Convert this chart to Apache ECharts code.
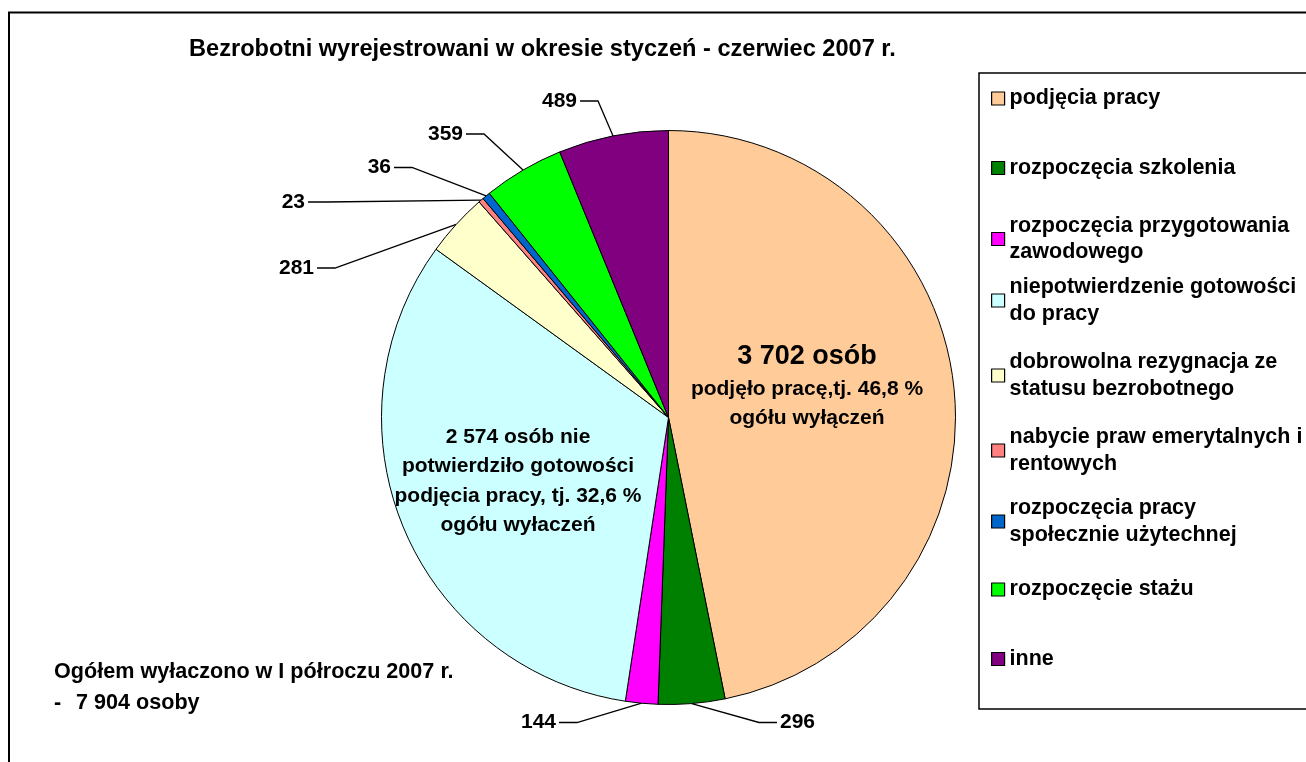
<!DOCTYPE html>
<html>
<head>
<meta charset="utf-8">
<title>Bezrobotni wyrejestrowani</title>
<script src="https://cdn.jsdelivr.net/npm/echarts@6/dist/echarts.min.js"></script>
<style>
html, body { margin: 0; padding: 0; background: #fff; }
#chart { width: 1306px; height: 762px; }
</style>
</head>
<body>
<div id="chart"></div>
<script>
var categories = ['podjęcia pracy', 'rozpoczęcia szkolenia', 'rozpoczęcia przygotowania zawodowego',
    'niepotwierdzenie gotowości do pracy', 'dobrowolna rezygnacja ze statusu bezrobotnego',
    'nabycie praw emerytalnych i rentowych', 'rozpoczęcia pracy społecznie użytechnej',
    'rozpoczęcie stażu', 'inne'];
var values = [3702, 296, 144, 2574, 281, 23, 36, 359, 489];
var colors = ['#FFCC99', '#008000', '#FF00FF', '#CCFFFF', '#FFFFCC', '#FF8080', '#0066CC', '#00FF00', '#800080'];
// legend entries wrapped as in the original
var legendLines = ['podjęcia pracy', 'rozpoczęcia szkolenia', 'rozpoczęcia przygotowania\nzawodowego',
    'niepotwierdzenie gotowości\ndo pracy', 'dobrowolna rezygnacja ze\nstatusu bezrobotnego',
    'nabycie praw emerytalnych i\nrentowych', 'rozpoczęcia pracy\nspołecznie użytechnej',
    'rozpoczęcie stażu', 'inne'];

// layout only
var font = "'Liberation Sans', Arial, sans-serif";
var center = [668.5, 417.5];
var legendRowY = [98.5, 168, 239, 300.5, 375.5, 450.5, 521.5, 589.5, 659];
var labelSpots = [[807, 386.5], [780, 722.5], [556, 722.5], [518, 481.3], [314, 268],
    [305, 202], [391, 167.5], [463, 134], [577, 101]];
var lh = 26.5;

var total = values.reduce(function (a, b) { return a + b; }, 0);
function num(n) { return String(n).replace(/\B(?=(\d{3})+(?!\d))/g, ' '); }
function pct(p) { return p.toFixed(1).replace('.', ','); }

var insideText = {
    0: function (p) {
        return '{big|' + num(p.value) + ' osób}\n{txt|podjęło pracę,tj. ' + pct(p.percent) + ' %}\n{txt|ogółu wyłączeń}';
    },
    3: function (p) {
        return '{txt|' + num(p.value) + ' osób nie}\n{txt|potwierdziło gotowości}\n{txt|podjęcia pracy, tj. '
            + pct(p.percent) + ' %}\n{txt|ogółu wyłaczeń}';
    }
};

var pieData = categories.map(function (name, i) {
    var item = { name: name, value: values[i], itemStyle: { color: colors[i] } };
    if (insideText[i]) {
        item.label = { position: 'inside', formatter: insideText[i] };
        item.labelLine = { show: false };
    }
    return item;
});

var dom = document.getElementById('chart');
var myChart = echarts.init(dom);
var option = {
    animation: false,
    backgroundColor: '#fff',
    graphic: [
        { type: 'rect', silent: true, z: 0, shape: { x: 9, y: 12.5, width: 1400, height: 900 },
          style: { fill: '#fff', stroke: '#000', lineWidth: 2 } },
        { type: 'rect', silent: true, z: 0, shape: { x: 979, y: 73, width: 400, height: 636 },
          style: { fill: 'none', stroke: '#000', lineWidth: 1.5 } }
    ],
    title: [
        {
            text: 'Bezrobotni wyrejestrowani w okresie styczeń - czerwiec 2007 r.',
            left: 189, top: 35, padding: 0,
            textStyle: { fontFamily: font, fontSize: 23.6, fontWeight: 'bold', color: '#000', lineHeight: 28 }
        },
        {
            text: '{t|Ogółem wyłaczono w I półroczu 2007 r.}\n{d|-}{t|' + num(total) + ' osoby}',
            left: 54, top: 656, padding: 0,
            textStyle: {
                rich: {
                    t: { fontFamily: font, fontSize: 21.6, fontWeight: 'bold', color: '#000', lineHeight: 31.6 },
                    d: { fontFamily: font, fontSize: 21.6, fontWeight: 'bold', color: '#000', lineHeight: 31.6, width: 22 }
                }
            }
        }
    ],
    legend: categories.map(function (name, i) {
        var twoLines = legendLines[i].indexOf('\n') >= 0;
        return {
            data: [name],
            orient: 'vertical',
            left: 991,
            top: legendRowY[i] - (twoLines ? 1.5 : 0.5) * lh,
            padding: 0,
            itemWidth: 13,
            itemHeight: 13,
            icon: 'rect',
            selectedMode: false,
            itemStyle: { borderColor: '#000', borderWidth: 1.2 },
            formatter: function () { return legendLines[i]; },
            textStyle: {
                fontFamily: font, fontSize: 21.5, fontWeight: 'bold', color: '#000',
                lineHeight: lh, padding: twoLines ? [lh, 0, 0, 0] : 0
            }
        };
    }),
    series: [
        {
            name: 'Bezrobotni wyrejestrowani',
            type: 'pie',
            center: center,
            radius: 287,
            startAngle: 90,
            clockwise: true,
            avoidLabelOverlap: false,
            emphasis: { scale: false },
            itemStyle: { borderColor: '#000', borderWidth: 1 },
            label: {
                show: true,
                position: 'outside',
                formatter: '{c}',
                color: '#000',
                fontFamily: font,
                fontSize: 21,
                fontWeight: 'bold',
                rich: {
                    big: { fontFamily: font, fontSize: 27, fontWeight: 'bold', color: '#000', lineHeight: 34 },
                    txt: { fontFamily: font, fontSize: 21, fontWeight: 'bold', color: '#000', lineHeight: 29.5 }
                }
            },
            labelLine: { show: true, length: 15, length2: 15, lineStyle: { color: '#000', width: 1.3 } },
            labelLayout: function (params) {
                var spot = labelSpots[params.dataIndex];
                var out = { x: spot[0], y: spot[1], verticalAlign: 'middle' };
                var pts = params.labelLinePoints;
                if (insideText[params.dataIndex]) {
                    out.align = 'center';
                } else if (pts) {
                    // leader: slice edge -> kink -> horizontal to the label
                    var dir = spot[0] < center[0] ? 1 : -1;
                    var start = [spot[0] + dir * 3, spot[1]];
                    var kink = [start[0] + dir * 18, spot[1]];
                    out.align = dir > 0 ? 'right' : 'left';
                    out.labelLinePoints = [pts[0], kink, start];
                }
                return out;
            },
            data: pieData
        }
    ]
};
if (option && typeof option === 'object') {
    myChart.setOption(option, true);
}
</script>
</body>
</html>
